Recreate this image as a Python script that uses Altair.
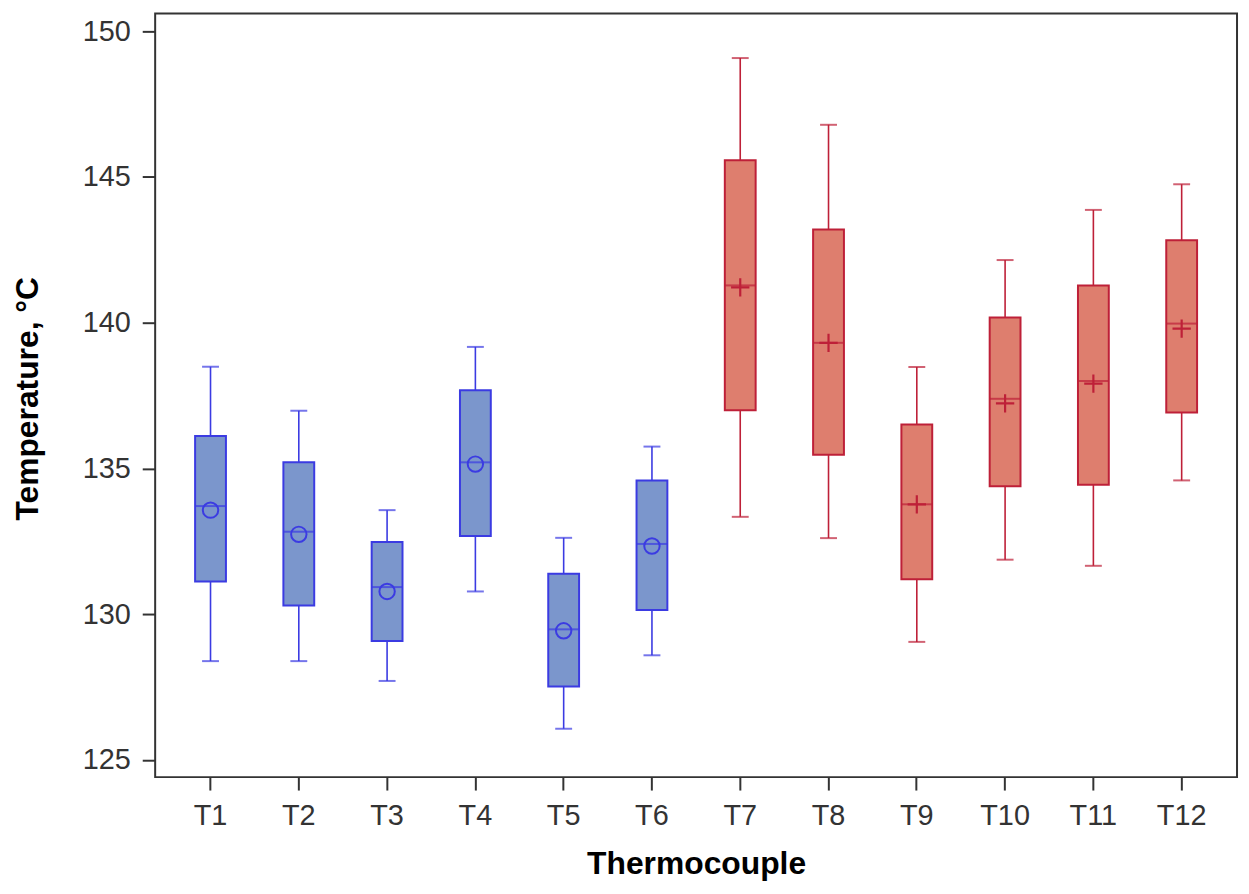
import altair as alt
import pandas as pd

# ---- data ----
thermocouples = ["T1", "T2", "T3", "T4", "T5", "T6", "T7", "T8", "T9", "T10", "T11", "T12"]
groups = ["A"] * 6 + ["B"] * 6
whisker_low = [128.39, 128.39, 127.71, 130.78, 126.07, 128.59, 133.34, 132.61, 129.05, 131.87, 131.66, 134.59]
q1 = [131.12, 130.30, 129.08, 132.68, 127.52, 130.14, 137.00, 135.47, 131.20, 134.39, 134.44, 136.92]
median = [133.71, 132.83, 130.93, 135.21, 129.48, 132.41, 141.28, 139.31, 133.77, 137.39, 138.00, 139.97]
q3 = [136.11, 135.21, 132.48, 137.68, 131.39, 134.59, 145.57, 143.20, 136.51, 140.18, 141.28, 142.83]
whisker_high = [138.49, 136.98, 133.57, 139.17, 132.62, 135.75, 149.08, 146.79, 138.48, 142.15, 143.87, 144.75]
mean = [133.57, 132.74, 130.78, 135.15, 129.43, 132.34, 141.21, 139.31, 133.77, 137.23, 137.91, 139.80]

df = pd.DataFrame({
    "tc": thermocouples, "group": groups, "lo": whisker_low, "q1": q1,
    "med": median, "q3": q3, "hi": whisker_high, "mean": mean,
})

FONT = "Liberation Sans"
stroke_scale = alt.Scale(domain=["A", "B"], range=["#3B3BE2", "#BE2038"])
fill_scale = alt.Scale(domain=["A", "B"], range=["#7B96CC", "#DE7E6E"])

x = alt.X(
    "tc:N", sort=thermocouples,
    scale=alt.Scale(paddingInner=0.2, paddingOuter=0.227),
    axis=alt.Axis(
        title="Thermocouple", labelAngle=0, tickSize=13, tickWidth=2, tickColor="#333333",
        domain=False, labelFontSize=29, labelFont=FONT, labelColor="#333333", labelPadding=12,
        titleFontSize=32, titleFont=FONT, titleFontWeight="bold", titleColor="#000000",
        titleBaseline="alphabetic", titleY=97,
    ),
)
y_scale = alt.Scale(domain=[124.41, 150.61], nice=False, zero=False)
y_axis = alt.Axis(
    title="Temperature, °C", values=[125, 130, 135, 140, 145, 150], grid=False,
    tickSize=13, tickWidth=2, tickColor="#333333", domain=False,
    labelFontSize=29, labelFont=FONT, labelColor="#333333", labelPadding=12,
    titleFontSize=32, titleFont=FONT, titleFontWeight="bold", titleColor="#000000",
    titleBaseline="alphabetic", titleX=-118, titleY=387,
)

base = alt.Chart(df).encode(x=x)
stroke = alt.Stroke("group:N", scale=stroke_scale, legend=None)
fill = alt.Fill("group:N", scale=fill_scale, legend=None)

whiskers = base.mark_rule(strokeWidth=1.6).encode(
    y=alt.Y("lo:Q", scale=y_scale, axis=y_axis), y2="hi:Q", stroke=stroke)
boxes = base.mark_bar(size=31, strokeWidth=2, fillOpacity=1).encode(
    y="q1:Q", y2="q3:Q", fill=fill, stroke=stroke)
med_ticks = base.mark_tick(size=31, thickness=2, orient="horizontal").encode(
    y="med:Q", color=alt.Color("group:N", scale=stroke_scale, legend=None))
cap_lo = base.mark_tick(size=17, thickness=2, orient="horizontal").encode(
    y="lo:Q", color=alt.Color("group:N", scale=stroke_scale, legend=None))
cap_hi = base.mark_tick(size=17, thickness=2, orient="horizontal").encode(
    y="hi:Q", color=alt.Color("group:N", scale=stroke_scale, legend=None))
mean_circ = base.transform_filter(alt.datum.group == "A").mark_point(
    shape="circle", size=240, filled=False, strokeWidth=2, opacity=1
).encode(y="mean:Q", stroke=stroke)
mean_plus = base.transform_filter(alt.datum.group == "B").mark_point(
    shape="M-1,0L1,0M0,-1L0,1", size=340, filled=False, strokeWidth=2.2, opacity=1
).encode(y="mean:Q", stroke=stroke)

chart = alt.layer(whiskers, boxes, med_ticks, cap_lo, cap_hi, mean_circ, mean_plus).properties(
    width=1088, height=768,
    background="white",
    autosize=alt.AutoSizeParams(type="none"),
    padding={"left": 148, "top": 3, "right": 4, "bottom": 107},
).configure_view(stroke="#333333", strokeWidth=2)

chart.save("out.html", embed_options={"renderer": "svg", "actions": False})
